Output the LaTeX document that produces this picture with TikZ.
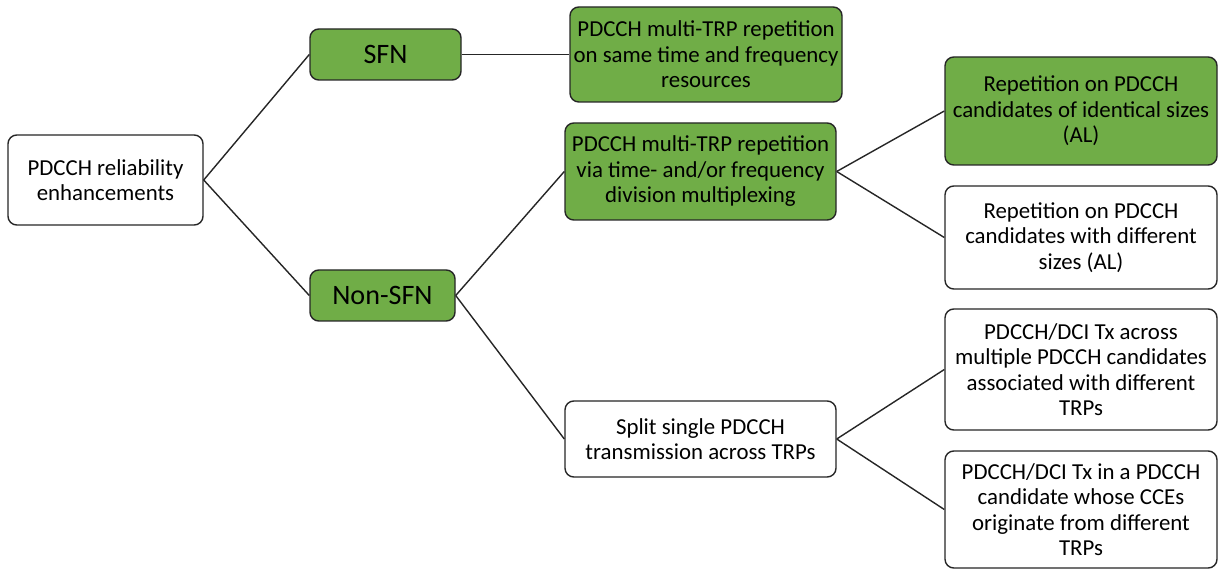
\documentclass[tikz,border=0pt]{standalone}
\usepackage{fontspec}
\setmainfont{Carlito}
\usetikzlibrary{positioning}
\definecolor{leafgreen}{HTML}{70AD47}
\definecolor{edgegray}{HTML}{262626}
\tikzset{
  box/.style={draw=edgegray, rounded corners=5pt, line width=0.8pt, align=center,
    inner sep=2pt, font=\fontsize{13}{14.5}\selectfont},
  greenbox/.style={box, fill=leafgreen},
  whitebox/.style={box, fill=white},
  bigbox/.style={greenbox, font=\fontsize{16}{18}\selectfont},
  link/.style={draw=edgegray, line width=0.8pt},
}
\begin{document}
\begin{tikzpicture}
  \useasboundingbox (0,0) rectangle (24.36,-11.38);
  % root and first level
  \node[whitebox, minimum width=3.9cm, minimum height=1.8cm] (root) at (2.11,-3.6)
    {PDCCH reliability\\enhancements};
  \node[bigbox, minimum width=3.02cm, minimum height=1.02cm] (sfn) at (7.71,-1.09) {SFN};
  \node[bigbox, minimum width=2.9cm, minimum height=1.02cm] (nonsfn) at (7.65,-5.91) {Non-SFN};
  % second level
  \node[greenbox, minimum width=5.44cm, minimum height=1.9cm] (samerep) at (14.12,-1.09)
    {PDCCH multi-TRP repetition\\on same time and frequency\\resources};
  \node[greenbox, minimum width=5.42cm, minimum height=1.94cm] (tdmrep) at (14.01,-3.43)
    {PDCCH multi-TRP repetition\\via time- and/or frequency\\division multiplexing};
  \node[whitebox, minimum width=5.42cm, minimum height=1.52cm] (split) at (14.01,-8.78)
    {Split single PDCCH\\transmission across TRPs};
  % third level
  \node[greenbox, minimum width=5.44cm, minimum height=2.16cm] (samesize) at (21.62,-2.22)
    {Repetition on PDCCH\\candidates of identical sizes\\(AL)};
  \node[whitebox, minimum width=5.44cm, minimum height=2.06cm] (diffsize) at (21.62,-4.75)
    {Repetition on PDCCH\\candidates with different\\sizes (AL)};
  \node[whitebox, minimum width=5.44cm, minimum height=2.42cm] (multicand) at (21.62,-7.39)
    {PDCCH/DCI Tx across\\multiple PDCCH candidates\\associated with different\\TRPs};
  \node[whitebox, minimum width=5.44cm, minimum height=2.34cm] (onecand) at (21.62,-10.19)
    {PDCCH/DCI Tx in a PDCCH\\candidate whose CCEs\\originate from different\\TRPs};
  % connectors
  \draw[link] (root.east) -- (sfn.west);
  \draw[link] (root.east) -- (nonsfn.west);
  \draw[link] (sfn.east) -- (samerep.west);
  \draw[link] (nonsfn.east) -- (tdmrep.west);
  \draw[link] (nonsfn.east) -- (split.west);
  \draw[link] (tdmrep.east) -- (samesize.west);
  \draw[link] (tdmrep.east) -- (diffsize.west);
  \draw[link] (split.east) -- (multicand.west);
  \draw[link] (split.east) -- (onecand.west);
\end{tikzpicture}
\end{document}
